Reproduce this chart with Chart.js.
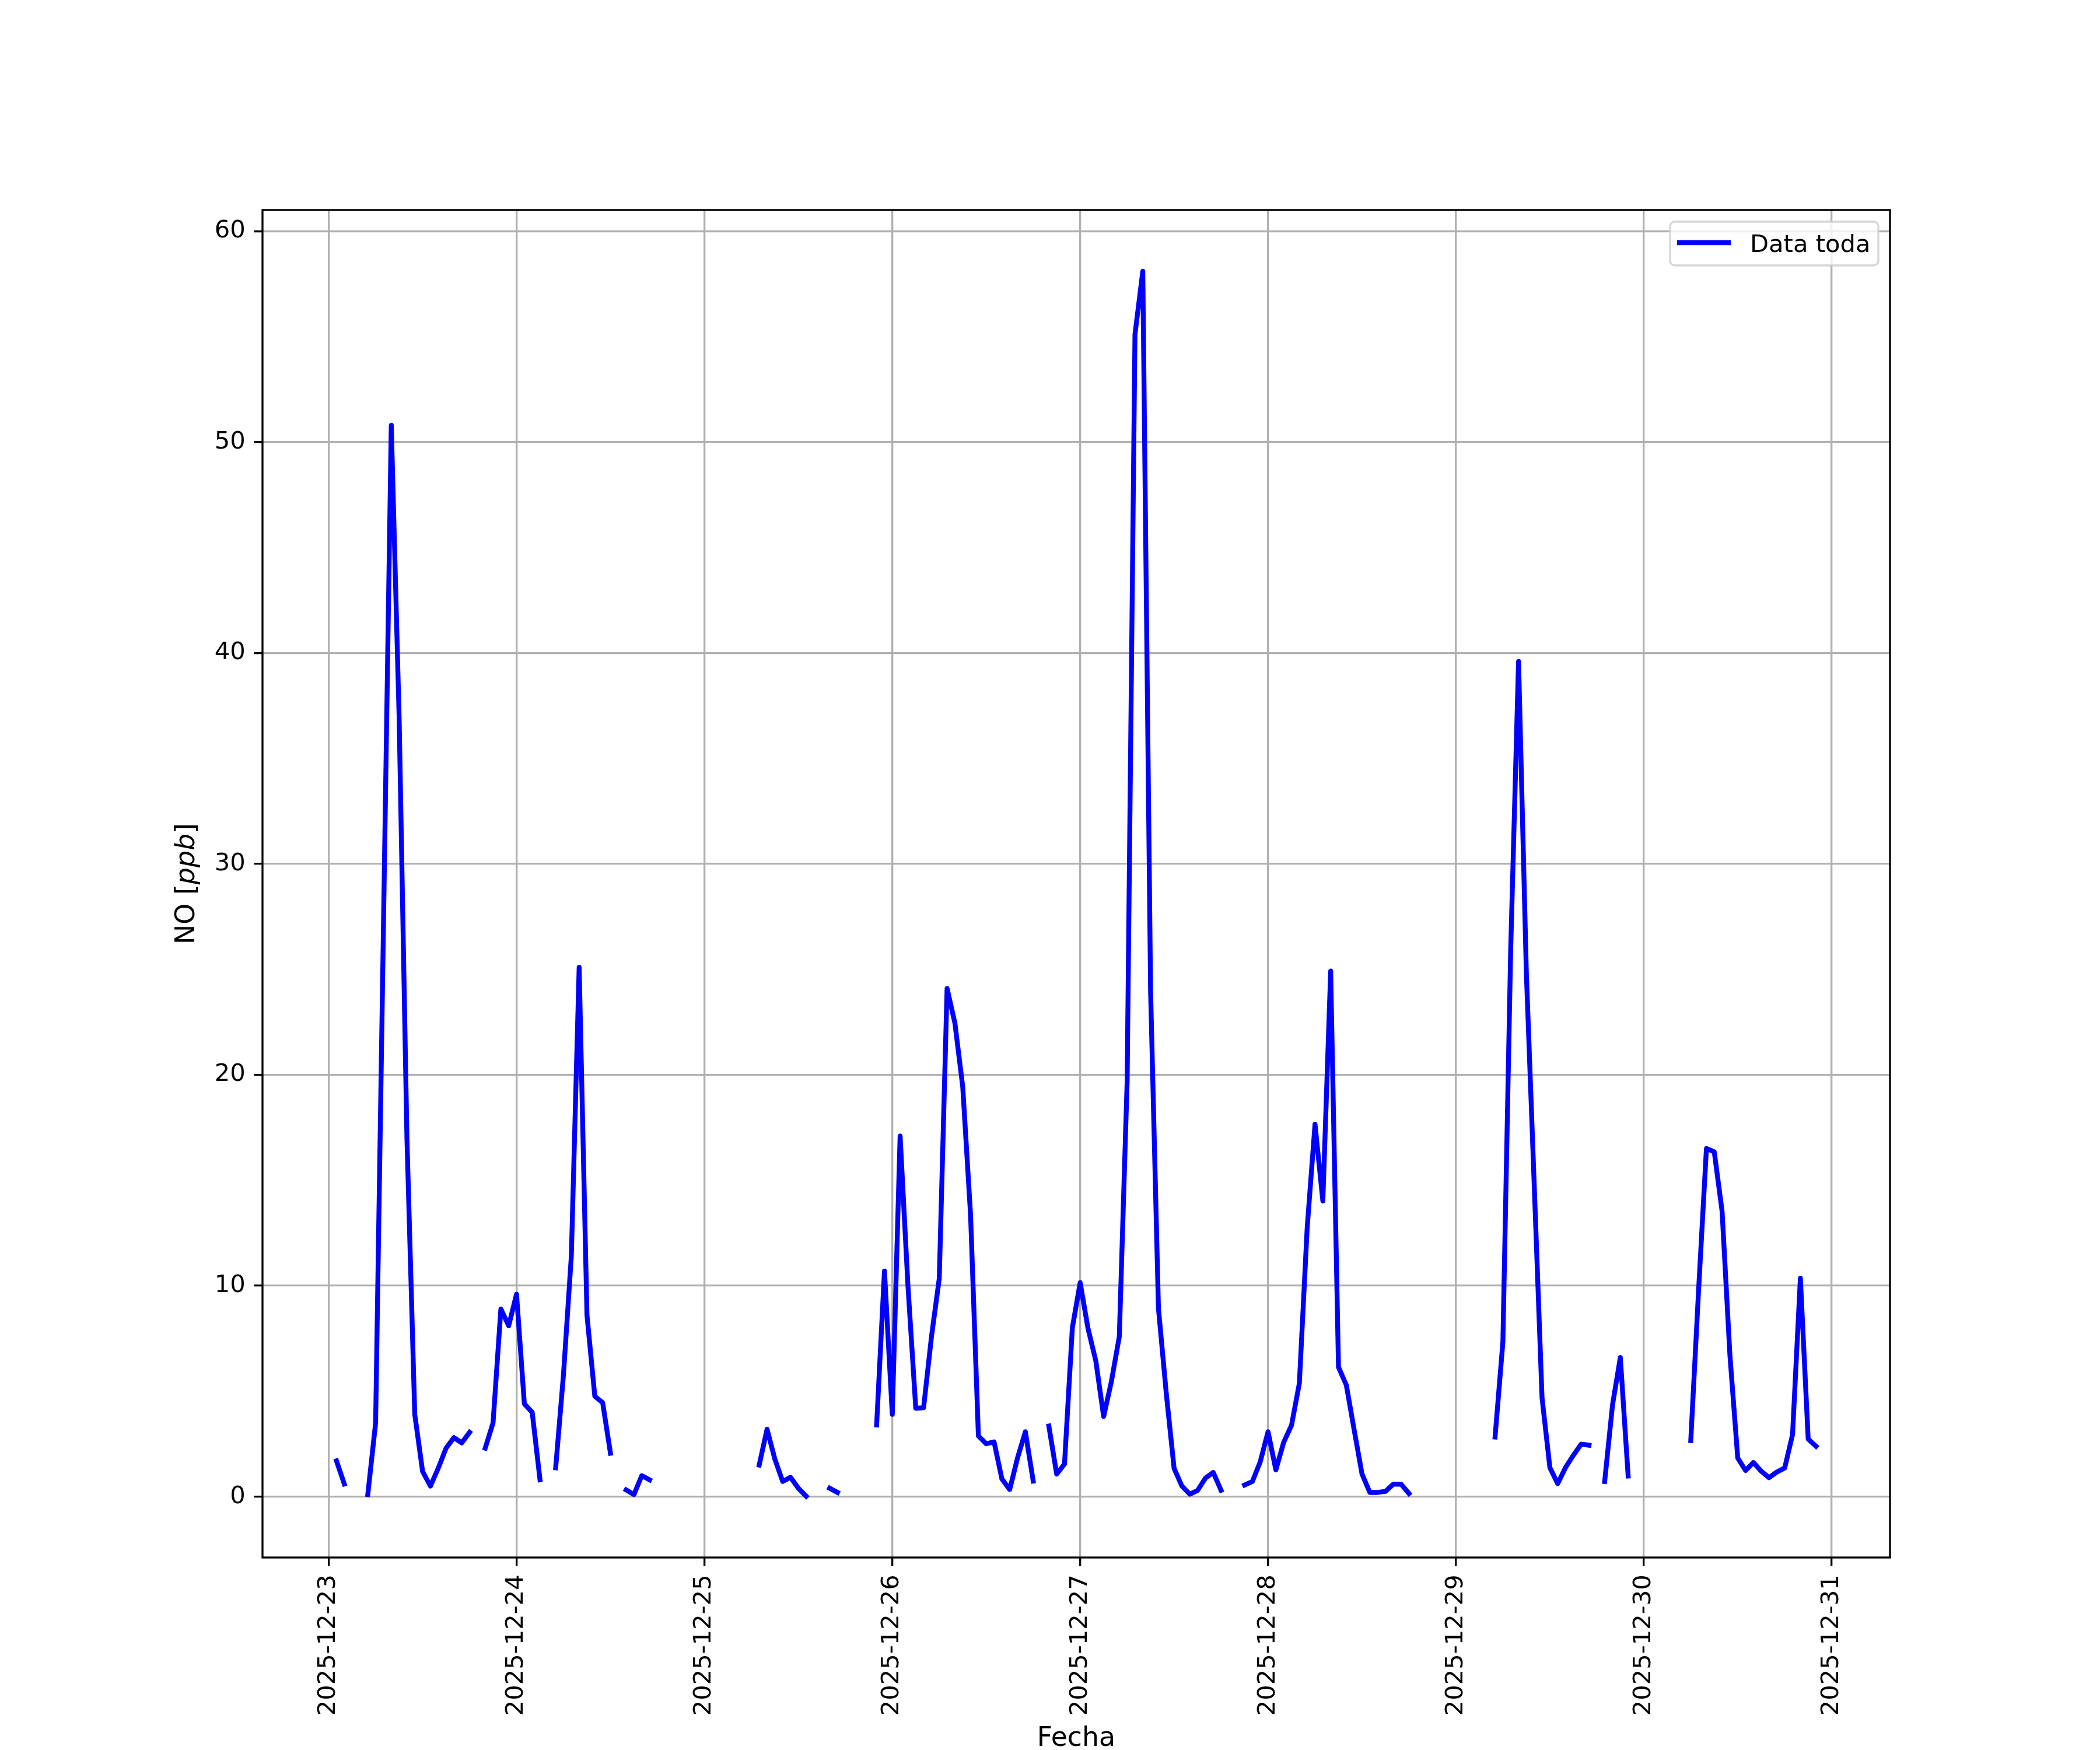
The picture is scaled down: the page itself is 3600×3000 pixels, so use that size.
<!DOCTYPE html>
<html>
<head>
<meta charset="utf-8">
<title>NO [ppb]</title>
<script src="https://cdn.jsdelivr.net/npm/chart.js@4.4.1/dist/chart.umd.min.js"></script>
<style>
  html, body { margin: 0; padding: 0; background: #ffffff; }
  #chart { display: block; }
</style>
</head>
<body>
<canvas id="chart" width="3600" height="3000"></canvas>
<script>
// NO horario [ppb], un arreglo por dia (hora 0..23), null = sin dato
const dec23 = [null, 1.7, 0.6, null, null, 0.1, 3.5, 27.0, 50.8, 37.0, 17.0, 3.9, 1.2, 0.5, 1.35, 2.3, 2.8, 2.55, 3.05, null, 2.3, 3.5, 8.9, 8.1];
const dec24 = [9.6, 4.4, 4.0, 0.8, null, 1.37, 5.8, 11.4, 25.1, 8.6, 4.76, 4.46, 2.06, null, 0.32, 0.1, 1.0, 0.8, null, null, null, null, null, null];
const dec25 = [null, null, null, null, null, null, null, 1.5, 3.2, 1.78, 0.72, 0.92, 0.4, 0.02, null, null, 0.4, 0.2, null, null, null, null, 3.4, 10.7];
const dec26 = [3.9, 17.1, 10.0, 4.19, 4.22, 7.57, 10.34, 24.1, 22.45, 19.43, 13.35, 2.88, 2.51, 2.6, 0.84, 0.34, 1.84, 3.08, 0.74, null, 3.35, 1.07, 1.55, 8.0];
const dec27 = [10.15, 7.98, 6.44, 3.8, 5.48, 7.59, 19.67, 55.1, 58.1, 23.9, 8.93, 4.9, 1.34, 0.5, 0.12, 0.3, 0.88, 1.15, 0.3, null, null, 0.55, 0.72, 1.65];
const dec28 = [3.08, 1.27, 2.58, 3.39, 5.37, 12.75, 17.66, 14.02, 24.92, 6.14, 5.29, 3.17, 1.08, 0.2, 0.2, 0.25, 0.59, 0.59, 0.15, null, null, null, null, null];
const dec29 = [null, null, null, null, null, 2.83, 7.34, 26.0, 39.6, 24.8, 14.8, 4.69, 1.38, 0.62, 1.38, 1.96, 2.49, 2.44, null, 0.72, 4.34, 6.6, 0.98, null];
const dec30 = [null, null, null, null, null, null, 2.66, 9.8, 16.51, 16.35, 13.53, 6.71, 1.83, 1.24, 1.62, 1.21, 0.9, 1.17, 1.36, 2.94, 10.36, 2.73, 2.39, null];

const dayLabels = ['2025-12-23', '2025-12-24', '2025-12-25', '2025-12-26', '2025-12-27',
                   '2025-12-28', '2025-12-29', '2025-12-30', '2025-12-31'];
const yTicks = [0, 10, 20, 30, 40, 50, 60];
const seriesLabel = 'Data toda';

// escala matplotlib a 300 dpi
const PT = 300 / 72;
const FONT = '"DejaVu Sans", "Liberation Sans", sans-serif';

// puntos x = horas desde 2025-12-23 00:00
const days = [dec23, dec24, dec25, dec26, dec27, dec28, dec29, dec30];
const points = [];
days.forEach(function(vals, d) {
    vals.forEach(function(v, h) {
        points.push({ x: d * 24 + h, y: v });
    });
});

// margenes de 5% como matplotlib
const valid = points.filter(p => p.y !== null);
const xs = valid.map(p => p.x), ys = valid.map(p => p.y);
const xMin = Math.min(...xs), xMax = Math.max(...xs);
const yMin = Math.min(...ys), yMax = Math.max(...ys);
const xPad = (xMax - xMin) * 0.05, yPad = (yMax - yMin) * 0.05;

const mplDecor = {
    id: 'mplDecor',
    afterDatasetsDraw(chart) {
        const ctx = chart.ctx;
        const a = chart.chartArea;
        ctx.save();
        ctx.strokeStyle = '#000000';
        ctx.lineWidth = 0.8 * PT;
        ctx.strokeRect(a.left, a.top, a.right - a.left, a.bottom - a.top);
        ctx.restore();
    },
    afterDraw(chart) {
        const ctx = chart.ctx;
        const a = chart.chartArea;
        const ds = chart.data.datasets[0];

        // leyenda (arriba a la derecha)
        const fs = 10 * PT;
        ctx.save();
        ctx.font = fs + 'px ' + FONT;
        const textW = ctx.measureText(ds.label).width;
        const boxR = a.right - 20, boxT = a.top + 20;
        const boxW = 357, boxH = 75;
        const boxL = boxR - boxW;
        ctx.beginPath();
        ctx.roundRect(boxL, boxT, boxW, boxH, 8);
        ctx.fillStyle = 'rgba(255,255,255,0.8)';
        ctx.fill();
        ctx.strokeStyle = 'rgba(204,204,204,0.8)';
        ctx.lineWidth = 0.8 * PT;
        ctx.stroke();
        const midY = boxT + 36;
        ctx.beginPath();
        ctx.moveTo(boxL + 12, midY);
        ctx.lineTo(boxL + 104, midY);
        ctx.strokeStyle = ds.borderColor;
        ctx.lineWidth = ds.borderWidth;
        ctx.lineCap = 'butt';
        ctx.stroke();
        ctx.fillStyle = '#000000';
        ctx.textBaseline = 'alphabetic';
        ctx.textAlign = 'left';
        ctx.fillText(ds.label, boxL + 137, boxT + 52);
        ctx.restore();

        // titulo eje x
        const ls = 11 * PT;
        ctx.save();
        ctx.font = ls + 'px ' + FONT;
        ctx.fillStyle = '#000000';
        ctx.textAlign = 'center';
        ctx.textBaseline = 'alphabetic';
        ctx.fillText('Fecha', (a.left + a.right) / 2, 2993);
        ctx.restore();

        // titulo eje y: NO [ppb] con ppb en italica
        ctx.save();
        ctx.translate(321, (a.top + a.bottom) / 2);
        ctx.rotate(-Math.PI / 2);
        ctx.fillStyle = '#000000';
        ctx.textBaseline = 'middle';
        ctx.textAlign = 'left';
        const parts = [['NO [', 'normal'], ['ppb', 'italic'], [']', 'normal']];
        let total = 0;
        parts.forEach(function(p) {
            ctx.font = p[1] + ' ' + ls + 'px ' + FONT;
            total += ctx.measureText(p[0]).width;
        });
        let x = -total / 2;
        parts.forEach(function(p) {
            ctx.font = p[1] + ' ' + ls + 'px ' + FONT;
            ctx.fillText(p[0], x, 0);
            x += ctx.measureText(p[0]).width;
        });
        ctx.restore();
    }
};

const ctx = document.getElementById('chart').getContext('2d');
const chart = new Chart(ctx, {
    type: 'line',
    data: {
        datasets: [{
            label: seriesLabel,
            data: points,
            borderColor: '#0000ff',
            backgroundColor: '#0000ff',
            borderWidth: 2 * PT,
            borderCapStyle: 'square',
            borderJoinStyle: 'round',
            pointRadius: 0,
            tension: 0,
            spanGaps: false,
            fill: false
        }]
    },
    options: {
        responsive: false,
        animation: false,
        devicePixelRatio: 1,
        layout: { padding: { top: 360, right: 360, left: 0, bottom: 0 } },
        plugins: {
            legend: { display: false },
            tooltip: { enabled: false }
        },
        scales: {
            x: {
                type: 'linear',
                min: xMin - xPad,
                max: xMax + xPad,
                afterFit: function(scale) { scale.height = 330; },
                afterBuildTicks: function(scale) {
                    scale.ticks = dayLabels.map((_, i) => ({ value: i * 24 }));
                },
                ticks: {
                    autoSkip: false,
                    minRotation: 90,
                    maxRotation: 90,
                    padding: 3.5 * PT,
                    color: '#000000',
                    font: { family: FONT, size: 10 * PT },
                    callback: function(value) { return dayLabels[Math.round(value / 24)]; }
                },
                grid: {
                    color: '#b0b0b0',
                    lineWidth: 0.8 * PT,
                    tickColor: '#000000',
                    tickWidth: 0.8 * PT,
                    tickLength: 3.5 * PT
                },
                border: { display: false }
            },
            y: {
                type: 'linear',
                min: yMin - yPad,
                max: yMax + yPad,
                afterFit: function(scale) { scale.width = 450; },
                afterBuildTicks: function(scale) {
                    scale.ticks = yTicks.map(v => ({ value: v }));
                },
                ticks: {
                    padding: 3.5 * PT,
                    color: '#000000',
                    font: { family: FONT, size: 10 * PT }
                },
                grid: {
                    color: '#b0b0b0',
                    lineWidth: 0.8 * PT,
                    tickColor: '#000000',
                    tickWidth: 0.8 * PT,
                    tickLength: 3.5 * PT
                },
                border: { display: false }
            }
        }
    },
    plugins: [mplDecor]
});
</script>
</body>
</html>
